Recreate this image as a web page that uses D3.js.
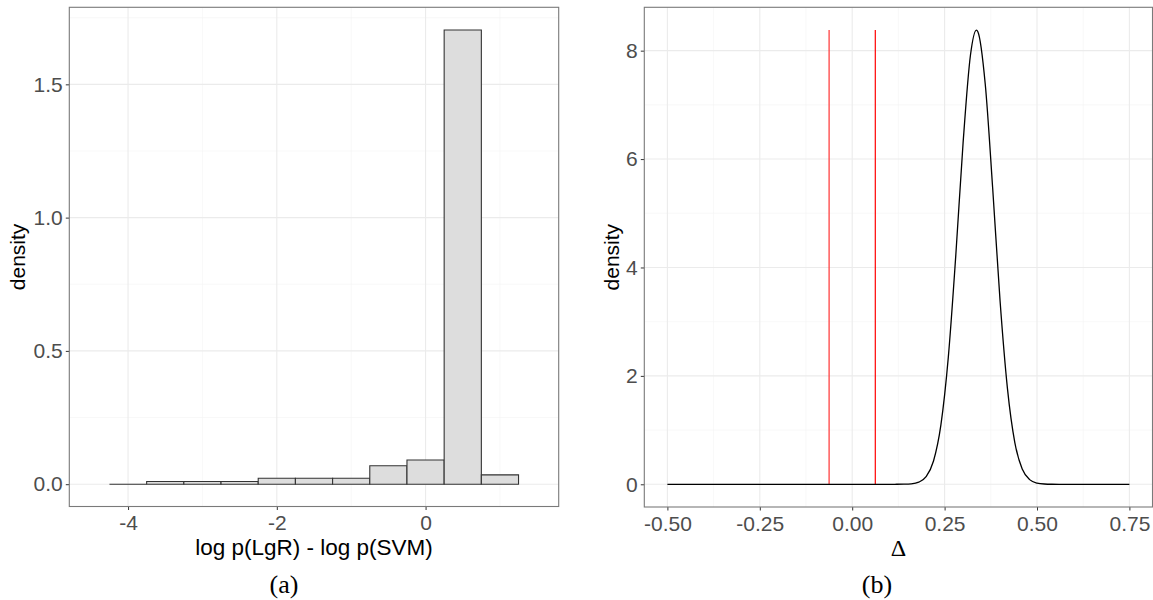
<!DOCTYPE html>
<html>
<head>
<meta charset="utf-8">
<script src="https://cdn.jsdelivr.net/npm/d3@7"></script>
<style>
  html, body { margin: 0; padding: 0; background: #fff; }
  svg { display: block; }
</style>
</head>
<body>
<svg id="chart" width="1153" height="600"></svg>
<script>
// ---------- Data: panel (a) histogram ----------
const binStarts = [-4.25, -3.75, -3.25, -2.75, -2.25, -1.75, -1.25, -0.75, -0.25, 0.25, 0.75];
const binWidth = 0.5;
const binDensity = [0.0, 0.010, 0.010, 0.010, 0.022, 0.022, 0.022, 0.069, 0.091, 1.704, 0.035];
const histXTicks = [-4, -2, 0];
const histXTickLabels = ["-4", "-2", "0"];
const histYTicks = [0.0, 0.5, 1.0, 1.5];
const histYTickLabels = ["0.0", "0.5", "1.0", "1.5"];

// ---------- Data: panel (b) density curve ----------
const deltaX = [-0.50, 0.00, 0.10, 0.12, 0.14, 0.16, 0.18, 0.20, 0.22, 0.24, 0.26, 0.28, 0.30, 0.32, 0.336, 0.34, 0.36, 0.38, 0.40, 0.42, 0.44, 0.46, 0.48, 0.50, 0.52, 0.54, 0.56, 0.60, 0.75];
const deltaDensity = [0, 0, 0, 0.0003, 0.002, 0.009, 0.039, 0.141, 0.430, 1.096, 2.341, 4.195, 6.296, 7.92, 8.38, 8.35, 7.38, 5.47, 3.39, 1.77, 0.770, 0.282, 0.086, 0.022, 0.005, 0.001, 0.0002, 0, 0];
const ropeLines = [-0.0625, 0.0625];
const densXTicks = [-0.50, -0.25, 0.00, 0.25, 0.50, 0.75];
const densXTickLabels = ["-0.50", "-0.25", "0.00", "0.25", "0.50", "0.75"];
const densYTicks = [0, 2, 4, 6, 8];
const densYTickLabels = ["0", "2", "4", "6", "8"];

// ---------- Styles ----------
const tickFont = "'Liberation Sans', Arial, Helvetica, sans-serif";
const serifFont = "'Liberation Serif', 'DejaVu Serif', serif";
const gridMajor = "#ebebeb";
const gridMinor = "#f4f4f4";
const borderColor = "#7a7a7a";

const svg = d3.select("#chart");

function drawPanel(opts) {
  const g = svg.append("g");
  const x = d3.scaleLinear().domain(opts.xDomain).range([opts.left, opts.right]);
  const y = d3.scaleLinear().domain(opts.yDomain).range([opts.bottom, opts.top]);

  // minor grid
  g.selectAll(".vminor").data(opts.xMinor).join("line")
    .attr("x1", d => x(d)).attr("x2", d => x(d))
    .attr("y1", opts.top).attr("y2", opts.bottom)
    .attr("stroke", gridMinor).attr("stroke-width", 0.6);
  g.selectAll(".hminor").data(opts.yMinor).join("line")
    .attr("y1", d => y(d)).attr("y2", d => y(d))
    .attr("x1", opts.left).attr("x2", opts.right)
    .attr("stroke", gridMinor).attr("stroke-width", 0.6);
  // major grid
  g.selectAll(".vmajor").data(opts.xTicks).join("line")
    .attr("x1", d => x(d)).attr("x2", d => x(d))
    .attr("y1", opts.top).attr("y2", opts.bottom)
    .attr("stroke", gridMajor).attr("stroke-width", 1.1);
  g.selectAll(".hmajor").data(opts.yTicks).join("line")
    .attr("y1", d => y(d)).attr("y2", d => y(d))
    .attr("x1", opts.left).attr("x2", opts.right)
    .attr("stroke", gridMajor).attr("stroke-width", 1.1);

  // axes
  const xAxis = d3.axisBottom(x).tickValues(opts.xTicks)
    .tickFormat((d, i) => opts.xTickLabels[i]).tickSize(3.5).tickPadding(5.5);
  const yAxis = d3.axisLeft(y).tickValues(opts.yTicks)
    .tickFormat((d, i) => opts.yTickLabels[i]).tickSize(3.5).tickPadding(3);
  const gx = svg.append("g").attr("transform", `translate(0,${opts.bottom})`).call(xAxis);
  const gy = svg.append("g").attr("transform", `translate(${opts.left},0)`).call(yAxis);
  [gx, gy].forEach(a => {
    a.select(".domain").remove();
    a.selectAll("line").attr("stroke", "#333333").attr("stroke-width", 1);
    a.selectAll("text").attr("fill", "#4d4d4d")
      .style("font-family", tickFont).style("font-size", "21px");
  });

  // axis titles
  svg.append("text")
    .attr("transform", `translate(${opts.yTitleX},${(opts.top + opts.bottom) / 2}) rotate(-90)`)
    .attr("text-anchor", "middle")
    .style("font-family", tickFont).style("font-size", "21px").attr("fill", "#000")
    .text("density");

  return { g, x, y };
}

// ---------- Panel (a) ----------
const A = drawPanel({
  left: 69.3, right: 558.7, top: 7.3, bottom: 506.5,
  xDomain: [-4.79, 1.79], yDomain: [-0.0837, 1.789],
  xTicks: histXTicks, xTickLabels: histXTickLabels,
  yTicks: histYTicks, yTickLabels: histYTickLabels,
  xMinor: [-3, -1, 1], yMinor: [0.25, 0.75, 1.25, 1.75],
  yTitleX: 25
});
A.g.selectAll(".bar").data(binStarts).join("path")
  .attr("d", (d, i) => {
    const x0 = A.x(d), x1 = A.x(d + binWidth), y0 = A.y(0), y1 = A.y(binDensity[i]);
    return `M${x0},${y0}L${x0},${y1}L${x1},${y1}L${x1},${y0}Z`;
  })
  .attr("fill", "#dddddd").attr("stroke", "#333333").attr("stroke-width", 1.1);

svg.append("text")
  .attr("x", (69.3 + 558.7) / 2).attr("y", 555)
  .attr("text-anchor", "middle")
  .style("font-family", tickFont).style("font-size", "22.5px").attr("fill", "#000")
  .text("log p(LgR) - log p(SVM)");

svg.append("rect").attr("x", 69.3).attr("y", 7.3).attr("width", 558.7 - 69.3).attr("height", 506.5 - 7.3)
  .attr("fill", "none").attr("stroke", borderColor).attr("stroke-width", 1.1);

// ---------- Panel (b) ----------
const B = drawPanel({
  left: 644.3, right: 1152.5, top: 7.3, bottom: 507,
  xDomain: [-0.5625, 0.8125], yDomain: [-0.419, 8.8],
  xTicks: densXTicks, xTickLabels: densXTickLabels,
  yTicks: densYTicks, yTickLabels: densYTickLabels,
  xMinor: [-0.375, -0.125, 0.125, 0.375, 0.625], yMinor: [1, 3, 5, 7],
  yTitleX: 619
});
const peak = d3.max(deltaDensity);
B.g.selectAll(".rope").data(ropeLines).join("line")
  .attr("x1", d => B.x(d)).attr("x2", d => B.x(d))
  .attr("y1", B.y(0)).attr("y2", B.y(peak))
  .attr("stroke", (d, i) => i === 0 ? "#ff3333" : "#ff0000").attr("stroke-width", 1.2);
const line = d3.line().x((d, i) => B.x(deltaX[i])).y(d => B.y(d)).curve(d3.curveMonotoneX);
B.g.append("path").datum(deltaDensity).attr("d", line)
  .attr("fill", "none").attr("stroke", "#000").attr("stroke-width", 1.3);

svg.append("text")
  .attr("x", (644.3 + 1152.5) / 2).attr("y", 556)
  .attr("text-anchor", "middle")
  .style("font-family", serifFont).style("font-size", "24px").attr("fill", "#000")
  .text("Δ");

svg.append("rect").attr("x", 644.3).attr("y", 7.3).attr("width", 1152.5 - 644.3).attr("height", 507 - 7.3)
  .attr("fill", "none").attr("stroke", borderColor).attr("stroke-width", 1.1);

// ---------- Captions ----------
svg.append("text").attr("x", 284).attr("y", 593).attr("text-anchor", "middle")
  .style("font-family", serifFont).style("font-size", "26px").attr("fill", "#000").text("(a)");
svg.append("text").attr("x", 877).attr("y", 593).attr("text-anchor", "middle")
  .style("font-family", serifFont).style("font-size", "26px").attr("fill", "#000").text("(b)");
</script>
</body>
</html>
